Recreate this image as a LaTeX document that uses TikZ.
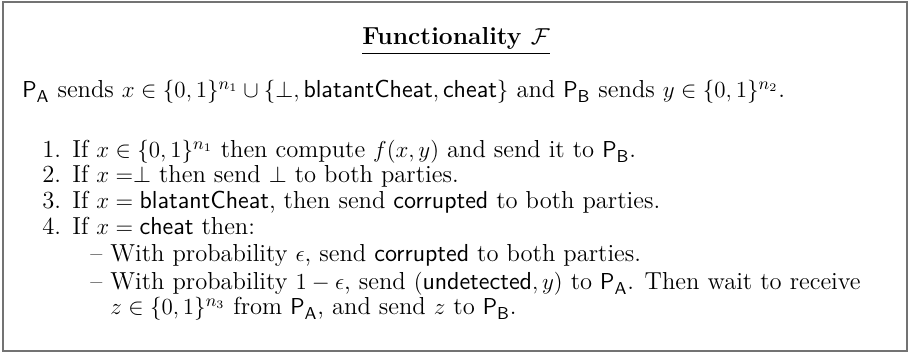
\documentclass[tikz,border=0pt]{standalone}
\usepackage{amsmath,amssymb}
\newcommand{\sfw}[1]{\text{\textsf{#1}}}
\tikzset{
  txt/.style={anchor=base west, inner sep=0pt, font=\fontsize{12.8}{15}\selectfont},
  frame/.style={draw=black!55, line width=0.8pt}
}
\begin{document}
\begin{tikzpicture}[x=0.5208pt,y=-0.5208pt]
\useasboundingbox (0,0) rectangle (910,354);
\draw[frame] (3,2) rectangle (907,351);
\node[txt, anchor=base] (title) at (456,45) {\textbf{\underline{Functionality $\mathcal{F}$}}};
\node[txt] (l0) at (22,98) {$\mathsf{P_A}$ sends $x \in \{0,1\}^{n_1} \cup \{\bot, \sfw{blatantCheat}, \sfw{cheat}\}$ and $\mathsf{P_B}$ sends $y \in \{0,1\}^{n_2}$.};
\node[txt] (n1) at (42,158) {1.};
\node[txt] (i1) at (72,158) {If $x \in \{0,1\}^{n_1}$ then compute $f(x,y)$ and send it to $\mathsf{P_B}$.};
\node[txt] (n2) at (42,183) {2.};
\node[txt] (i2) at (72,183) {If $x =\perp$ then send $\bot$ to both parties.};
\node[txt] (n3) at (42,209) {3.};
\node[txt] (i3) at (72,209) {If $x = \sfw{blatantCheat}$, then send \textsf{corrupted} to both parties.};
\node[txt] (n4) at (42,235) {4.};
\node[txt] (i4) at (72,235) {If $x = \sfw{cheat}$ then:};
\node[txt] (d1) at (90,262) {--};
\node[txt] (j1) at (110,262) {With probability $\epsilon$, send \textsf{corrupted} to both parties.};
\node[txt] (d2) at (90,290) {--};
\node[txt] (j2) at (110,290) {With probability $1-\epsilon$, send $(\sfw{undetected}, y)$ to $\mathsf{P_A}$. Then wait to receive};
\node[txt] (j3) at (110,315) {$z \in \{0,1\}^{n_3}$ from $\mathsf{P_A}$, and send $z$ to $\mathsf{P_B}$.};
\end{tikzpicture}
\end{document}
